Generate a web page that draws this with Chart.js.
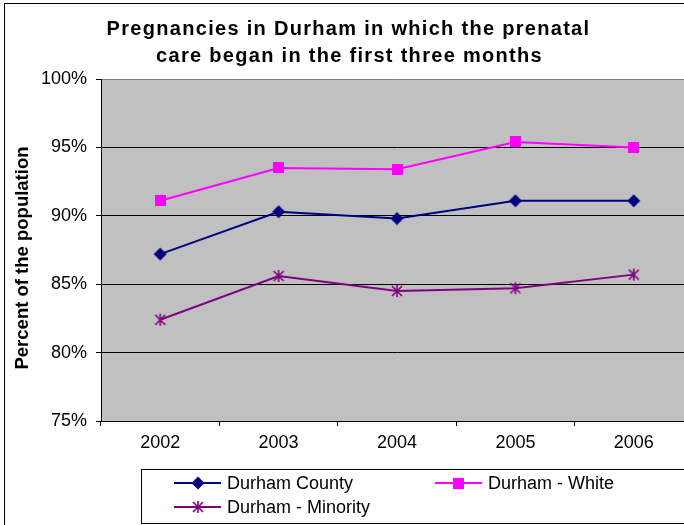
<!DOCTYPE html>
<html>
<head>
<meta charset="utf-8">
<script src="https://cdn.jsdelivr.net/npm/chart.js@4.4.0/dist/chart.umd.min.js"></script>
<style>
  html, body { margin: 0; padding: 0; background: #fff; overflow: hidden; width: 684px; height: 525px; }
  #wrap { position: relative; width: 700px; height: 525px; }
  canvas { display: block; }
</style>
</head>
<body>
<div id="wrap"><canvas id="c" width="700" height="525" style="width:700px;height:525px"></canvas></div>
<script>
// Share of pregnancies with prenatal care starting in the first trimester (%)
const years = ['2002', '2003', '2004', '2005', '2006'];
const countyPct = [87.2, 90.3, 89.8, 91.1, 91.1];
const whitePct = [91.1, 93.5, 93.4, 95.4, 95.0];
const minorityPct = [82.4, 85.6, 84.5, 84.7, 85.7];
const seriesNames = ['Durham County', 'Durham - White', 'Durham - Minority'];
const titleLines = ['Pregnancies in Durham in which the prenatal', 'care began in the first three months'];
const yAxisTitle = 'Percent of the population';

const FONT = '"Liberation Sans", Arial, Helvetica, sans-serif';
const NAVY = '#000080', MAGENTA = '#FF00FF', PURPLE = '#800080';

// Marker glyphs rendered once and reused for the series points and the legend
function makeMarker(size, draw) {
  const c = document.createElement('canvas');
  c.width = size; c.height = size;
  draw(c.getContext('2d'), size);
  return c;
}
const diamond = makeMarker(14, (g, s) => {
  const m = s / 2;
  g.fillStyle = NAVY;
  g.beginPath();
  g.moveTo(m, m - 6.5); g.lineTo(m + 6.5, m); g.lineTo(m, m + 6.5); g.lineTo(m - 6.5, m);
  g.closePath(); g.fill();
});
const square = makeMarker(11, (g, s) => {
  g.fillStyle = MAGENTA;
  g.fillRect(0, 0, s, s);
});
const asterisk = makeMarker(14, (g, s) => {
  g.strokeStyle = PURPLE; g.lineWidth = 1.6;
  g.beginPath();
  g.moveTo(7, 1); g.lineTo(7, 13);
  g.moveTo(2, 2); g.lineTo(12, 12);
  g.moveTo(12, 2); g.lineTo(2, 12);
  g.stroke();
});

const decorations = {
  id: 'decorations',
  beforeDraw(chart) {
    const { ctx, chartArea: a } = chart;
    ctx.save();
    ctx.fillStyle = '#fff';
    ctx.fillRect(0, 0, chart.width, chart.height);
    ctx.fillStyle = '#C0C0C0';
    ctx.fillRect(a.left, a.top, a.right - a.left, a.bottom - a.top);
    ctx.restore();
  },
  afterDraw(chart) {
    const { ctx } = chart;
    ctx.save();
    // outer frame
    ctx.strokeStyle = '#000'; ctx.lineWidth = 1;
    ctx.strokeRect(4.5, 3.5, 800, 700);

    // title
    ctx.fillStyle = '#000';
    ctx.font = 'bold 20px ' + FONT;
    ctx.textAlign = 'center';
    ctx.textBaseline = 'alphabetic';
    if ('letterSpacing' in ctx) ctx.letterSpacing = '1.3px';
    ctx.fillText(titleLines[0], 348.5, 35);
    ctx.fillText(titleLines[1], 349.5, 62);
    if ('letterSpacing' in ctx) ctx.letterSpacing = '0px';

    // y-axis title
    ctx.save();
    ctx.translate(28, 258);
    ctx.rotate(-Math.PI / 2);
    ctx.font = 'bold 18.5px ' + FONT;
    ctx.textAlign = 'center';
    ctx.textBaseline = 'alphabetic';
    ctx.fillText(yAxisTitle, 0, 0);
    ctx.restore();

    // legend
    ctx.strokeStyle = '#000'; ctx.lineWidth = 1;
    ctx.strokeRect(141.5, 469.5, 700, 54);
    const slots = [[174, 483], [435, 483], [174, 507]];
    ctx.font = '18px ' + FONT;
    ctx.textAlign = 'left';
    ctx.textBaseline = 'middle';
    chart.data.datasets.forEach((ds, i) => {
      const [x, y] = slots[i];
      ctx.strokeStyle = ds.borderColor; ctx.lineWidth = 2;
      ctx.beginPath(); ctx.moveTo(x, y); ctx.lineTo(x + 47, y); ctx.stroke();
      const img = ds.pointStyle;
      ctx.drawImage(img, Math.round(x + 23.5 - img.width / 2), Math.round(y - img.height / 2));
      ctx.fillStyle = '#000';
      ctx.fillText(ds.label, x + 53, y + 1);
    });
    ctx.restore();
  }
};

new Chart(document.getElementById('c'), {
  type: 'line',
  data: {
    labels: years,
    datasets: [
      { label: seriesNames[0], data: countyPct, borderColor: NAVY, backgroundColor: NAVY, pointStyle: diamond },
      { label: seriesNames[1], data: whitePct, borderColor: MAGENTA, backgroundColor: MAGENTA, pointStyle: square },
      { label: seriesNames[2], data: minorityPct, borderColor: PURPLE, backgroundColor: PURPLE, pointStyle: asterisk }
    ]
  },
  options: {
    responsive: false,
    animation: false,
    devicePixelRatio: 1,
    layout: { padding: { top: 79, right: 6, left: 0, bottom: 0 } },
    elements: {
      line: { borderWidth: 2, tension: 0 },
      point: { radius: 6, hoverRadius: 6 }
    },
    plugins: {
      legend: { display: false },
      title: { display: false },
      tooltip: { enabled: false }
    },
    scales: {
      x: {
        type: 'category',
        offset: true,
        grid: { drawOnChartArea: false, drawTicks: true, tickLength: 5, offset: true, color: '#000', tickColor: '#000' },
        border: { color: '#000', width: 1 },
        ticks: { color: '#000', font: { size: 18, family: FONT }, padding: 6, maxRotation: 0 },
        afterFit(s) { s.height = 104; }
      },
      y: {
        min: 75, max: 100,
        ticks: { stepSize: 5, color: '#000', font: { size: 18, family: FONT }, padding: 9, callback: v => v + '%' },
        grid: {
          color: c => (c.tick && c.tick.value === 100) ? '#808080' : '#000',
          tickColor: '#000', tickLength: 5, lineWidth: 1
        },
        border: { color: '#000', width: 1 },
        afterFit(s) { s.width = 101; }
      }
    }
  },
  plugins: [decorations]
});
</script>
</body>
</html>
